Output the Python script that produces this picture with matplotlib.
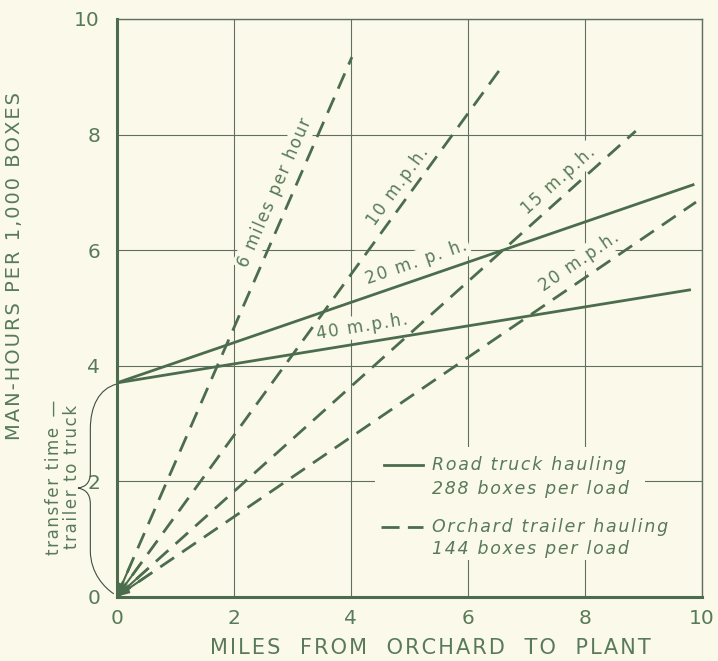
import numpy as np
import matplotlib.pyplot as plt
from matplotlib.path import Path
from matplotlib.patches import PathPatch, Rectangle
from matplotlib.lines import Line2D

plt.rcParams['font.family'] = ['DejaVu Sans']

# orchard trailer lines (start at origin)
trailer_labels = ['6 miles per hour', '10 m.p.h.', '15 m.p.h.', '20 m.p.h.']
trailer_end_miles = [4.02, 6.56, 8.87, 9.9]
trailer_end_hours = [9.34, 9.14, 8.06, 6.83]

# road truck lines (start at transfer time)
truck_labels = ['20 m. p. h.', '40 m.p.h.']
truck_start_hours = [3.7, 3.7]
truck_end_miles = [9.85, 9.79]
truck_end_hours = [7.13, 5.31]

ticks = [0, 2, 4, 6, 8, 10]

bg = '#fbf9ea'
ink = '#4b6d4d'
txt = '#587a5a'
grid_c = '#5f6f60'


def spaced(s):
    # wide lettering like the original drafting style
    return '\u200a'.join(s)


fig = plt.figure(figsize=(7.18, 6.61), dpi=100, facecolor=bg)
ax = fig.add_axes([0.1625, 0.0973, 0.815, 0.874])
ax.set_facecolor(bg)
ax.set_xlim(0, 10)
ax.set_ylim(0, 10)
ax.set_xticks(ticks)
ax.set_yticks(ticks)
ax.set_axisbelow(True)
ax.grid(True, color=grid_c, lw=0.8, zorder=0.5)
ax.tick_params(length=0, labelsize=14.5, labelcolor=txt, pad=9)
ax.tick_params(axis='y', pad=12)
for s in ['left', 'bottom']:
    ax.spines[s].set_linewidth(2.2)
    ax.spines[s].set_color(ink)
for s in ['top', 'right']:
    ax.spines[s].set_linewidth(1.0)
    ax.spines[s].set_color(grid_c)

fig.text(430 / 718, 1 - 648 / 661, spaced('MILES  FROM  ORCHARD  TO  PLANT'), fontsize=15,
         color=txt, ha='center', va='center')
fig.text(15 / 718, 1 - 266 / 661, spaced('MAN-HOURS PER 1,000 BOXES'), fontsize=14,
         color=txt, ha='center', va='center', rotation=90)

lbl_box = dict(boxstyle='square,pad=0.15', fc=bg, ec='none')

# trailer lines
trailer_pos = [(2.71, 7.0), (4.8, 7.1), (7.54, 7.2), (7.9, 5.8)]
for i in range(len(trailer_labels)):
    x1, y1 = trailer_end_miles[i], trailer_end_hours[i]
    ax.plot([0, x1], [0, y1], color=ink, lw=2.0, dashes=(6, 3.5), zorder=2)
    ax.annotate('', xy=(0, 0), xytext=(x1 * 0.06, y1 * 0.06),
                arrowprops=dict(arrowstyle='-|>,head_length=0.7,head_width=0.25',
                                color=ink, lw=1.5, shrinkA=0, shrinkB=0), zorder=2)
    ang = np.degrees(np.arctan2(y1, x1))
    ax.text(trailer_pos[i][0], trailer_pos[i][1], spaced(trailer_labels[i]), fontsize=12,
            color=txt, rotation=ang, transform_rotates_text=True,
            rotation_mode='anchor', ha='center', va='center', bbox=lbl_box, zorder=1.5)

# truck lines
truck_pos = [(5.12, 5.79), (4.2, 4.68)]
for i in range(len(truck_labels)):
    y0 = truck_start_hours[i]
    x1, y1 = truck_end_miles[i], truck_end_hours[i]
    ax.plot([0, x1], [y0, y1], color=ink, lw=2.0, zorder=2)
    ang = np.degrees(np.arctan2(y1 - y0, x1))
    ax.text(truck_pos[i][0], truck_pos[i][1], spaced(truck_labels[i]), fontsize=12,
            color=txt, rotation=ang, transform_rotates_text=True,
            rotation_mode='anchor', ha='center', va='center', bbox=lbl_box, zorder=1.5)

# legend drawn by hand
ax.add_patch(Rectangle((0.4415, 0.0635), 0.4615, 0.1955, transform=ax.transAxes,
                       fc=bg, ec='none', zorder=1.5))
ax.add_line(Line2D([0.456, 0.524], [0.228, 0.228], transform=ax.transAxes,
                   color=ink, lw=2.0, zorder=3))
ax.add_line(Line2D([0.452, 0.524], [0.121, 0.121], transform=ax.transAxes,
                   color=ink, lw=2.0, dashes=(6.5, 3), zorder=3))
leg_text = [('Road truck hauling', 0.228), ('288 boxes per load', 0.186),
            ('Orchard trailer hauling', 0.121), ('144 boxes per load', 0.083)]
for s, yy in leg_text:
    ax.text(0.539, yy, spaced(s), transform=ax.transAxes, fontsize=12.5, style='italic',
            color=txt, ha='left', va='center', zorder=3)

# brace for transfer time
verts = [(0.0, 3.68),
         (-0.3, 3.6), (-0.45, 3.3), (-0.45, 2.9),
         (-0.45, 2.15),
         (-0.45, 1.95), (-0.55, 1.9), (-0.66, 1.88),
         (-0.55, 1.86), (-0.45, 1.8), (-0.45, 1.6),
         (-0.45, 0.8),
         (-0.45, 0.4), (-0.2, 0.15), (-0.05, 0.05)]
codes = [Path.MOVETO, Path.CURVE4, Path.CURVE4, Path.CURVE4, Path.LINETO,
         Path.CURVE4, Path.CURVE4, Path.CURVE4, Path.CURVE4, Path.CURVE4, Path.CURVE4,
         Path.LINETO, Path.CURVE4, Path.CURVE4, Path.CURVE4]
ax.add_patch(PathPatch(Path(verts, codes), fc='none', ec='#3f4f40', lw=0.8, clip_on=False))
ax.text(-0.92, 2.07, spaced('transfer time') + '  \u2014\n' + spaced('trailer to truck'),
        rotation=90, fontsize=12, color=txt, ha='center', va='center',
        multialignment='center', linespacing=1.0)

fig.savefig('out.png', dpi=100, facecolor=bg)
